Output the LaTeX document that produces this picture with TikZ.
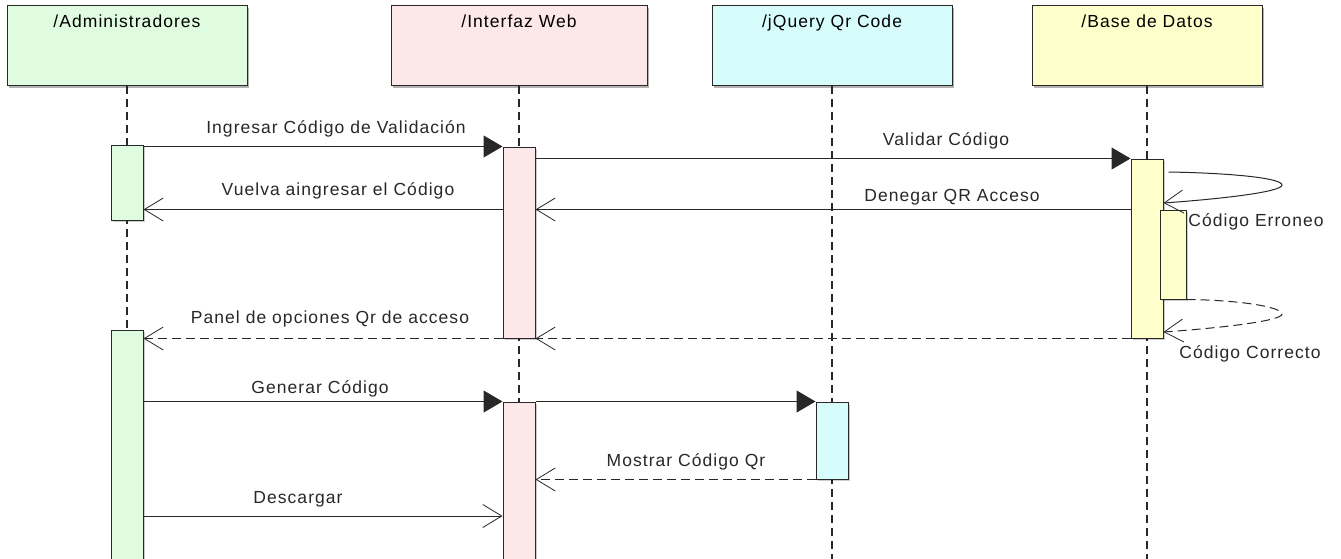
\documentclass[tikz,border=0pt]{standalone}
\usepackage{fontspec}
\setmainfont{Liberation Sans}[LetterSpace=6]
\usetikzlibrary{arrows.meta,shadows,calc}
\definecolor{cA}{RGB}{224,252,224}
\definecolor{cI}{RGB}{252,232,232}
\definecolor{cQ}{RGB}{214,252,252}
\definecolor{cB}{RGB}{255,255,204}
\definecolor{ink}{RGB}{40,40,40}
\begin{document}
\begin{tikzpicture}[x=1pt,y=-1pt,
  font=\fontsize{17.5}{20}\selectfont,
  hdr/.style={draw=ink, line width=1pt, inner sep=0pt, minimum height=80pt,
    text height=22pt, text depth=58pt, anchor=north,
    drop shadow={shadow xshift=2pt,shadow yshift=-2pt,fill=black,opacity=0.3}},
  act/.style={draw=ink, line width=1pt, inner sep=0pt, minimum width=32pt,
    drop shadow={shadow xshift=1.5pt,shadow yshift=-1.5pt,fill=black,opacity=0.2}},
  life/.style={draw=ink, line width=1.1pt, dash pattern=on 8pt off 5pt},
  msg/.style={draw=ink, line width=1pt},
  dsh/.style={dash pattern=on 9pt off 5pt},
  tri/.style={-{Triangle[length=19pt,width=22pt]}},
  opn/.style={-{Straight Barb[length=19pt,width=23pt,line width=0.8pt]}},
  lbl/.style={anchor=base, inner sep=0pt, text=ink}
]
\useasboundingbox (0,0) rectangle (1341,558);
\fill[white] (0,0) rectangle (1341,558);

% headers
\node[hdr, fill=cA, minimum width=240pt] (hA) at (127,5) {/Administradores};
\node[hdr, fill=cI, minimum width=256pt] (hI) at (519,5) {/Interfaz Web};
\node[hdr, fill=cQ, minimum width=240pt] (hQ) at (832,5) {/jQuery Qr Code};
\node[hdr, fill=cB, minimum width=230pt] (hB) at (1147,5) {/Base de Datos};

% lifelines
\coordinate (eA) at (127,570);
\coordinate (eI) at (519,570);
\coordinate (eQ) at (832,570);
\coordinate (eB) at (1147,570);
\draw[life] (hA.south) -- (eA);
\draw[life] (hI.south) -- (eI);
\draw[life] (hQ.south) -- (eQ);
\draw[life] (hB.south) -- (eB);

% activation bars
\node[act, fill=cA, minimum height=75pt] (a1) at (127,182.5) {};
\node[act, fill=cA, minimum height=240pt] (a2) at (127,450) {};
\node[act, fill=cI, minimum height=191pt] (i1) at (519,242.5) {};
\node[act, fill=cI, minimum height=168pt] (i2) at (519,486) {};
\node[act, fill=cQ, minimum height=77pt] (q1) at (832,440.5) {};
\node[act, fill=cB, minimum height=179pt] (b1) at (1147,248.5) {};
\node[act, fill=cB, minimum height=89pt, minimum width=26pt] (b2) at (1173,254.5) {};

% helper rows
\coordinate (yD) at (0,516);
\coordinate (yL1) at (0,172);
\coordinate (yL1e) at (0,203);
\coordinate (yL2e) at (0,332);

% messages
\draw[msg,tri] (a1.east |- i1.north) -- (i1.north west);
\draw[msg,tri] (i1.east |- b1.north) -- (b1.north west);
\draw[msg,opn] (b1.west |- b2.north) -- (i1.east |- b2.north);
\draw[msg,opn] (i1.west |- b2.north) -- (a1.east |- b2.north);
\draw[msg,dsh,opn] (b1.south west) -- (i1.south east);
\draw[msg,dsh,opn] (i1.south west) -- (a2.east |- i1.south);
\draw[msg,tri] (a2.east |- i2.north) -- (i2.north west);
\draw[msg,tri] (i2.north east) -- (q1.north west);
\draw[msg,dsh,opn] (q1.south west) -- (i2.east |- q1.south);
\draw[msg,opn] (a2.east |- yD) -- (i2.west |- yD);

% self messages
\draw[msg,opn] ($(b1.east |- yL1)+(5,0)$) .. controls (1230,173) and (1282,178) .. (1282,185)
   .. controls (1282,192) and (1220,199) .. (b1.east |- yL1e);
\draw[msg,dsh,opn] (b2.south east) .. controls (1240,300) and (1282,307) .. (1282,314)
   .. controls (1282,321) and (1220,328) .. (b1.east |- yL2e);

% labels
\node[lbl] (t1) at (336,133) {Ingresar Código de Validación};
\node[lbl] (t2) at (946,145) {Validar Código};
\node[lbl] (t3) at (952,201) {Denegar QR Acceso};
\node[lbl] (t4) at (338,195) {Vuelva aingresar el Código};
\node[lbl] (t5) at (1256,226) {Código Erroneo};
\node[lbl] (t6) at (1250,358) {Código Correcto};
\node[lbl] (t7) at (330,323) {Panel de opciones Qr de acceso};
\node[lbl] (t8) at (320,393) {Generar Código};
\node[lbl] (t9) at (686,466) {Mostrar Código Qr};
\node[lbl] (t10) at (298,503) {Descargar};
\end{tikzpicture}
\end{document}
